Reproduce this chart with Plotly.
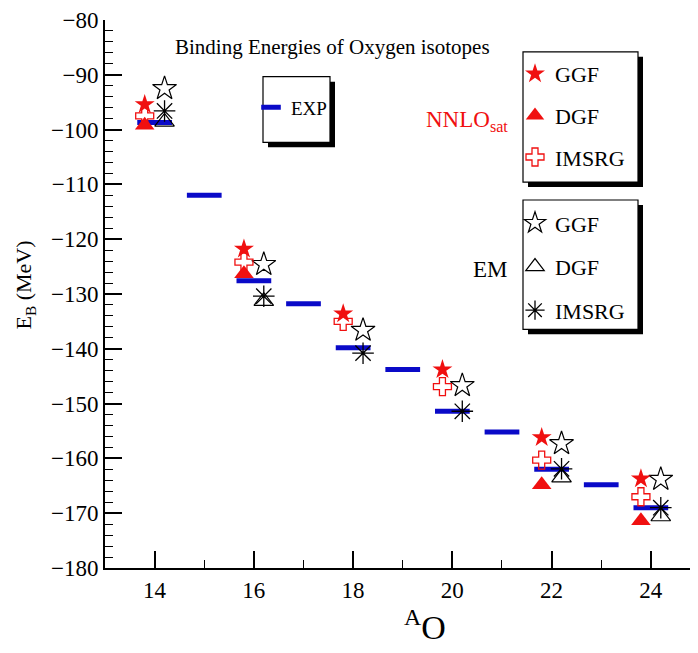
import plotly.graph_objects as go

# ---------------- data ----------------
A_exp = [14, 15, 16, 17, 18, 19, 20, 21, 22, 23, 24]
E_exp = [-98.7, -112.0, -127.6, -131.8, -139.8, -143.8, -151.4, -155.2, -162.0, -164.8, -169.0]

A_all = [14, 16, 18, 20, 22, 24]
A_dgf = [14, 16, 22, 24]

sat_ggf = [-95.4, -121.8, -133.6, -143.8, -156.2, -163.7]
sat_imsrg = [-97.5, -124.2, -135.0, -146.9, -160.3, -167.0]
sat_dgf = [-99.2, -126.3, -164.8, -171.4]

em_ggf = [-92.5, -124.6, -136.6, -146.7, -157.3, -163.8]
em_imsrg = [-96.6, -130.4, -140.8, -151.4, -161.9, -169.0]
em_dgf = [-98.6, -131.3, -163.5, -170.6]

x_ticks = [14, 16, 18, 20, 22, 24]

# ---------------- geometry helpers (screen px -> paper) ----------------
OFF = 8                      # page body margin
W, H = 698 - OFF, 653 - OFF
ML, MR, MT, MB = 105 - OFF, 0, 17 - OFF, 85
PW, PH = W - ML - MR, H - MT - MB


def px(sx):
    return (sx - OFF - ML) / PW


def py(sy):
    return (H - MB - (sy - OFF)) / PH


FONT = "Liberation Serif"
RED = "#f01010"
BLUE = "#0a0ac8"
BAR_HALF = 0.35
SHIFT = 0.2

fig = go.Figure()

# experimental bars
bx, by = [], []
for a, e in zip(A_exp, E_exp):
    bx += [a - BAR_HALF, a + BAR_HALF, None]
    by += [e, e, None]
fig.add_trace(go.Scatter(x=bx, y=by, mode="lines", line=dict(color=BLUE, width=5),
                         showlegend=False, hoverinfo="skip"))
# legend proxy for EXP
fig.add_trace(go.Scatter(x=[None], y=[None], mode="markers", name="EXP", legend="legend",
                         marker=dict(symbol="line-ew", size=14, color=BLUE,
                                     line=dict(color=BLUE, width=5))))

sat_x = [a - SHIFT for a in A_all]
sat_dx = [a - SHIFT for a in A_dgf]
em_x = [a + SHIFT for a in A_all]
em_dx = [a + SHIFT for a in A_dgf]

# EM (black, open)
fig.add_trace(go.Scatter(x=em_x, y=em_ggf, mode="markers", name="GGF", legend="legend3", legendgroup="eg",
                         legendrank=1,
                         marker=dict(symbol="star-open", size=18, color="black", line=dict(color="black", width=1.2))))
fig.add_trace(go.Scatter(x=em_dx, y=em_dgf, mode="markers", name="DGF", legend="legend3", legendgroup="ed",
                         legendrank=2,
                         marker=dict(symbol="triangle-up-open", size=17, color="black", line=dict(color="black", width=1.2))))
fig.add_trace(go.Scatter(x=em_x, y=em_imsrg, mode="markers", name="IMSRG", legend="legend3", legendgroup="ei",
                         legendrank=3,
                         marker=dict(symbol="asterisk-open", size=18, color="black", line=dict(color="black", width=1.3))))

# NNLOsat (red)
fig.add_trace(go.Scatter(x=sat_dx, y=sat_dgf, mode="markers", name="DGF", legend="legend2", legendgroup="sd",
                         legendrank=2,
                         marker=dict(symbol="triangle-up", size=17, color=RED, line=dict(width=0))))
fig.add_trace(go.Scatter(x=sat_x, y=sat_imsrg, mode="markers", name="IMSRG", legend="legend2", legendgroup="si",
                         legendrank=3,
                         marker=dict(symbol="cross-open", size=15, color=RED, line=dict(color=RED, width=1.3))))
fig.add_trace(go.Scatter(x=sat_x, y=sat_ggf, mode="markers", name="GGF", legend="legend2", legendgroup="sg",
                         legendrank=1,
                         marker=dict(symbol="star", size=15, color=RED, line=dict(width=0))))

# ---------------- boxes (legend frames with shadow) ----------------
shapes = []


def box(x0, y0, x1, y1, off=5):
    shapes.append(dict(type="rect", xref="paper", yref="paper", layer="above",
                       x0=px(x0 + off), x1=px(x1 + off), y0=py(y1 + off), y1=py(y0 + off),
                       fillcolor="black", line=dict(width=0)))
    shapes.append(dict(type="rect", xref="paper", yref="paper", layer="above",
                       x0=px(x0), x1=px(x1), y0=py(y1), y1=py(y0),
                       fillcolor="white", line=dict(color="black", width=1.2)))


box(263, 74, 330, 140)
box(523, 49, 638, 180)
box(523, 198, 638, 328)

leg_common = dict(bgcolor="rgba(0,0,0,0)", borderwidth=0, xanchor="left", yanchor="middle",
                  traceorder="grouped", itemclick=False, itemdoubleclick=False)


def ann(text, sx, sy, size, color="black", **kw):
    return dict(text=text, xref="paper", yref="paper", x=px(sx), y=py(sy), xanchor="center",
                yanchor="middle", showarrow=False, font=dict(family=FONT, size=size, color=color), **kw)


annotations = [
    ann("Binding Energies of Oxygen isotopes", 332, 44, 21),
    ann("NNLO<sub>sat</sub>", 467, 119, 23, RED),
    ann("EM", 490, 268, 23),
    ann("E<sub>B</sub> (MeV)", 25, 284, 22, textangle=-90),
    ann("<sup>A</sup>O", 425, 625, 34),
]

fig.update_layout(
    width=W, height=H,
    margin=dict(l=ML, r=MR, t=MT, b=MB),
    paper_bgcolor="white", plot_bgcolor="white",
    font=dict(family=FONT, size=22, color="black"),
    shapes=shapes,
    annotations=annotations,
    legend=dict(x=px(251), y=py(105), font=dict(family=FONT, size=19), tracegroupgap=0, **leg_common),
    legend2=dict(x=px(515), y=py(113), font=dict(family=FONT, size=22), tracegroupgap=10, **leg_common),
    legend3=dict(x=px(515), y=py(265), font=dict(family=FONT, size=22), tracegroupgap=12, **leg_common),
    xaxis=dict(range=[13, 24.95], tickvals=x_ticks, ticks="inside", ticklen=17, tickwidth=1.5,
               tickcolor="black", showline=True, linecolor="black", linewidth=2, mirror=False,
               showgrid=False, zeroline=False, tickfont=dict(family=FONT, size=23),
               ticklabeloverflow="allow",
               minor=dict(dtick=1, tick0=13, ticks="inside", ticklen=8, tickwidth=1.3, tickcolor="black")),
    yaxis=dict(range=[-180, -80], dtick=10, tick0=-180, ticks="inside", ticklen=17, tickwidth=1.5,
               tickcolor="black", showline=True, linecolor="black", linewidth=2, mirror=False,
               showgrid=False, zeroline=False, tickfont=dict(family=FONT, size=23),
               ticklabeloverflow="allow",
               minor=dict(dtick=2, tick0=-180, ticks="inside", ticklen=8, tickwidth=1.3, tickcolor="black")),
)

fig.write_html("out.html")
